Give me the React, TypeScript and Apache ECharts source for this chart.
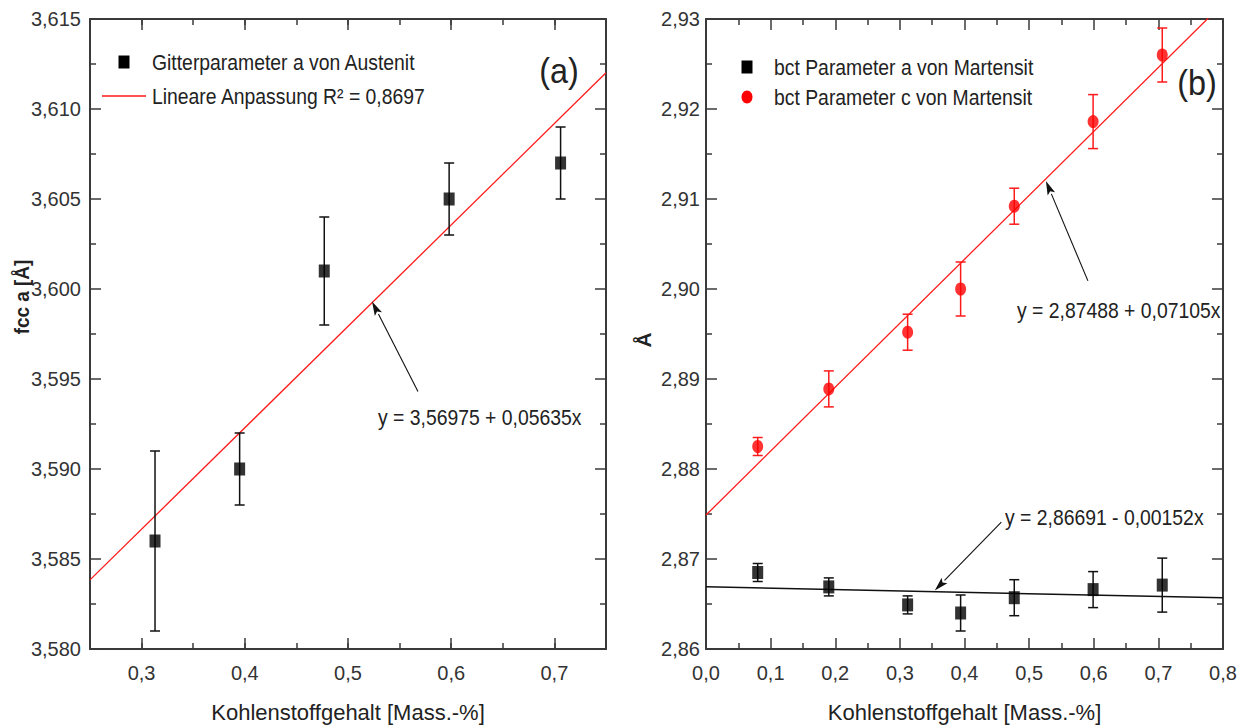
import React, { useEffect, useRef } from "react";
import * as echarts from "echarts";

// ---------- data ----------
// Panel (a): austenite lattice parameter
const austeniteC = [0.313, 0.395, 0.477, 0.598, 0.706];
const austeniteA = [3.586, 3.59, 3.601, 3.605, 3.607];
const austeniteErr = [0.005, 0.002, 0.003, 0.002, 0.002];
const austeniteFit = [
  [0.25, 3.58384],
  [0.75, 3.61201],
];

// Panel (b): martensite lattice parameters
const martensiteC = [0.08, 0.19, 0.312, 0.394, 0.477, 0.599, 0.706];
const martensiteA = [2.8685, 2.8669, 2.8649, 2.864, 2.8657, 2.8666, 2.8671];
const martensiteAErr = [0.001, 0.001, 0.001, 0.002, 0.002, 0.002, 0.003];
const martensiteCpar = [2.8825, 2.8889, 2.8952, 2.9, 2.9092, 2.9186, 2.926];
const martensiteCErr = [0.001, 0.002, 0.002, 0.003, 0.002, 0.003, 0.003];
const fitA = [
  [0.0, 2.86691],
  [0.8, 2.86569],
];
const fitC = [
  [0.0, 2.87488],
  [0.8, 2.93172],
];

// annotation arrows: [tailX, tailY, headX, headY]
const arrowLeft = [[0.5678, 3.5943, 0.5233, 3.5993]];
const arrowRightC = [[0.591, 2.9009, 0.526, 2.912]];
const arrowRightA = [[0.457, 2.8741, 0.354, 2.8665]];

const labelsText = {
  legendA1: "Gitterparameter a von Austenit",
  legendA2: "Lineare Anpassung R² = 0,8697",
  legendB1: "bct Parameter a von Martensit",
  legendB2: "bct Parameter c von Martensit",
  eqA: "y = 3,56975 + 0,05635x",
  eqBc: "y = 2,87488 + 0,07105x",
  eqBa: "y = 2,86691 - 0,00152x",
  xName: "Kohlenstoffgehalt [Mass.-%]",
  yNameA: "fcc a [Å]",
  yNameB: "Å",
};

const FONT = "'Liberation Sans Narrow', 'Arial Narrow', 'Liberation Sans', sans-serif";
const AXIS_COLOR = "#3a3a3a";
const TEXT_COLOR = "#222";
const NARROW = 0.88;

function errData(xs: number[], ys: number[], es: number[]) {
  return xs.map((x, i) => [x, ys[i] - es[i], ys[i] + es[i]]);
}

function errSeries(name: string, xi: number, yi: number, data: number[][], color: string) {
  return {
    name,
    type: "custom",
    xAxisIndex: xi,
    yAxisIndex: yi,
    z: 3,
    encode: { x: 0, y: [1, 2] },
    data,
    renderItem: (params: any, api: any) => {
      const x = api.value(0);
      const pl = api.coord([x, api.value(1)]);
      const ph = api.coord([x, api.value(2)]);
      const w = 5;
      const st = { stroke: color, lineWidth: 1.5 };
      return {
        type: "group",
        children: [
          { type: "line", shape: { x1: pl[0], y1: pl[1], x2: ph[0], y2: ph[1] }, style: st },
          { type: "line", shape: { x1: pl[0] - w, y1: pl[1], x2: pl[0] + w, y2: pl[1] }, style: st },
          { type: "line", shape: { x1: ph[0] - w, y1: ph[1], x2: ph[0] + w, y2: ph[1] }, style: st },
        ],
      };
    },
  };
}

function arrowSeries(xi: number, yi: number, data: number[][]) {
  return {
    type: "custom",
    xAxisIndex: xi,
    yAxisIndex: yi,
    z: 6,
    clip: false,
    encode: { x: [0, 2], y: [1, 3] },
    data,
    renderItem: (params: any, api: any) => {
      const t = api.coord([api.value(0), api.value(1)]);
      const h = api.coord([api.value(2), api.value(3)]);
      const dx = h[0] - t[0];
      const dy = h[1] - t[1];
      const len = Math.sqrt(dx * dx + dy * dy);
      const ux = dx / len;
      const uy = dy / len;
      const hl = 14;
      const hw = 4;
      const bx = h[0] - ux * hl;
      const by = h[1] - uy * hl;
      return {
        type: "group",
        children: [
          { type: "line", shape: { x1: t[0], y1: t[1], x2: bx, y2: by }, style: { stroke: "#111", lineWidth: 1.1 } },
          {
            type: "polygon",
            shape: {
              points: [
                [h[0], h[1]],
                [bx - uy * hw, by + ux * hw],
                [bx + ux * 3, by + uy * 3],
                [bx + uy * hw, by - ux * hw],
              ],
            },
            style: { fill: "#111" },
          },
        ],
      };
    },
  };
}

function fmt(d: number) {
  return (v: number) => v.toFixed(d).replace(".", ",");
}

function baseAxis(extra: any) {
  return {
    type: "value",
    splitLine: { show: false },
    axisLine: { show: true, onZero: false, lineStyle: { color: AXIS_COLOR, width: 2 } },
    axisTick: { show: true, inside: true, length: 11, lineStyle: { color: AXIS_COLOR, width: 1.5 } },
    axisLabel: { show: false },
    ...extra,
  };
}

const labelStyle = { color: "#333", fontFamily: FONT, fontSize: 20 };
const nameStyle = { color: TEXT_COLOR, fontFamily: FONT, fontSize: 22 };

function txt(text: string, x: number, y: number, size: number, extra: any = {}) {
  return {
    type: "text",
    x,
    y,
    scaleX: NARROW,
    style: { text, fill: TEXT_COLOR, font: `${size}px ${FONT}`, verticalAlign: "middle", ...extra },
  };
}

export default function App() {
  const ref = useRef<HTMLDivElement>(null);
  useEffect(() => {
    if (!ref.current) return;
    const chart = echarts.init(ref.current, undefined, { renderer: "svg" });
    const majorOnlyLabel = (v: number) =>
      Math.abs(v * 10 - Math.round(v * 10)) < 1e-6 ? v.toFixed(1).replace(".", ",") : "";
    const minorTicks = { show: true, splitNumber: 2, length: 6, lineStyle: { color: AXIS_COLOR, width: 1.5 } };

    const option: any = {
      animation: false,
      backgroundColor: "#fff",
      grid: [
        { left: 90, top: 19, width: 516, height: 640 },
        { left: 706, top: 19, width: 517, height: 640 },
      ],
      xAxis: [
        baseAxis({
          gridIndex: 0,
          position: "bottom",
          min: 0.25,
          max: 0.75,
          splitNumber: 5,
          axisLabel: { show: true, formatter: majorOnlyLabel, margin: 14, ...labelStyle },
          name: labelsText.xName,
          nameLocation: "middle",
          nameGap: 52,
          nameTextStyle: nameStyle,
        }),
        baseAxis({
          gridIndex: 0,
          position: "bottom",
          min: 0.25,
          max: 0.75,
          interval: 0.05,
          axisLine: { show: false, onZero: false },
          axisTick: { show: true, inside: true, length: 6, lineStyle: { color: AXIS_COLOR, width: 1.5 } },
        }),
        baseAxis({ gridIndex: 0, position: "top", min: 0.25, max: 0.75, splitNumber: 5 }),
        baseAxis({
          gridIndex: 0,
          position: "top",
          min: 0.25,
          max: 0.75,
          interval: 0.05,
          axisLine: { show: false, onZero: false },
          axisTick: { show: true, inside: true, length: 6, lineStyle: { color: AXIS_COLOR, width: 1.5 } },
        }),
        baseAxis({
          gridIndex: 1,
          position: "bottom",
          min: 0,
          max: 0.8,
          interval: 0.1,
          minorTick: minorTicks,
          axisLabel: { show: true, formatter: fmt(1), margin: 14, ...labelStyle },
          name: labelsText.xName,
          nameLocation: "middle",
          nameGap: 52,
          nameTextStyle: nameStyle,
        }),
        baseAxis({ gridIndex: 1, position: "top", min: 0, max: 0.8, interval: 0.1, minorTick: minorTicks }),
      ],
      yAxis: [
        baseAxis({
          gridIndex: 0,
          position: "left",
          min: 3.58,
          max: 3.615,
          interval: 0.005,
          minorTick: minorTicks,
          axisLabel: { show: true, formatter: fmt(3), margin: 9, ...labelStyle },
        }),
        baseAxis({ gridIndex: 0, position: "right", min: 3.58, max: 3.615, interval: 0.005, minorTick: minorTicks }),
        baseAxis({
          gridIndex: 1,
          position: "left",
          min: 2.86,
          max: 2.93,
          interval: 0.01,
          minorTick: minorTicks,
          axisLabel: { show: true, formatter: fmt(2), margin: 6, ...labelStyle },
        }),
        baseAxis({ gridIndex: 1, position: "right", min: 2.86, max: 2.93, interval: 0.01, minorTick: minorTicks }),
      ],
      series: [
        {
          name: labelsText.legendA2,
          type: "line",
          xAxisIndex: 0,
          yAxisIndex: 0,
          data: austeniteFit,
          symbol: "none",
          z: 2,
          lineStyle: { color: "#ff1a1a", width: 1.3 },
        },
        errSeries("errA", 0, 0, errData(austeniteC, austeniteA, austeniteErr), "#111"),
        {
          name: labelsText.legendA1,
          type: "scatter",
          xAxisIndex: 0,
          yAxisIndex: 0,
          symbol: "rect",
          symbolSize: [11, 13],
          z: 4,
          itemStyle: { color: "#000" },
          data: austeniteC.map((x, i) => [x, austeniteA[i]]),
        },
        arrowSeries(0, 0, arrowLeft),
        {
          type: "line",
          xAxisIndex: 4,
          yAxisIndex: 2,
          data: fitC,
          symbol: "none",
          z: 2,
          clip: true,
          lineStyle: { color: "#ff1a1a", width: 1.3 },
        },
        {
          type: "line",
          xAxisIndex: 4,
          yAxisIndex: 2,
          data: fitA,
          symbol: "none",
          z: 2,
          lineStyle: { color: "#111", width: 1.5 },
        },
        errSeries("errBa", 4, 2, errData(martensiteC, martensiteA, martensiteAErr), "#111"),
        errSeries("errBc", 4, 2, errData(martensiteC, martensiteCpar, martensiteCErr), "#ff1a1a"),
        {
          name: labelsText.legendB1,
          type: "scatter",
          xAxisIndex: 4,
          yAxisIndex: 2,
          symbol: "rect",
          symbolSize: [11, 13],
          z: 4,
          itemStyle: { color: "#000" },
          data: martensiteC.map((x, i) => [x, martensiteA[i]]),
        },
        {
          name: labelsText.legendB2,
          type: "scatter",
          xAxisIndex: 4,
          yAxisIndex: 2,
          symbol: "circle",
          symbolSize: [11, 13],
          z: 4,
          itemStyle: { color: "#ff0000" },
          data: martensiteC.map((x, i) => [x, martensiteCpar[i]]),
        },
        arrowSeries(4, 2, arrowRightC),
        arrowSeries(4, 2, arrowRightA),
      ],
      graphic: [
        // legend (a)
        { type: "rect", shape: { x: 118.5, y: 55.5, width: 11, height: 13 }, style: { fill: "#000" } },
        txt(labelsText.legendA1, 152, 62, 22),
        { type: "line", shape: { x1: 102, y1: 96, x2: 146, y2: 96 }, style: { stroke: "#ff1a1a", lineWidth: 1.5 } },
        txt(labelsText.legendA2, 152, 96, 22),
        {
          type: "text",
          x: 559,
          y: 70,
          style: { text: "(a)", fill: TEXT_COLOR, font: `36px ${FONT}`, align: "center", verticalAlign: "middle" },
          scaleX: 0.9,
        },
        // legend (b)
        { type: "rect", shape: { x: 741.5, y: 60.5, width: 11, height: 13 }, style: { fill: "#000" } },
        txt(labelsText.legendB1, 774, 67, 22),
        { type: "ellipse", shape: { cx: 747, cy: 97, rx: 5.5, ry: 6.5 }, style: { fill: "#ff0000" } },
        txt(labelsText.legendB2, 774, 97, 22),
        {
          type: "text",
          x: 1197,
          y: 82,
          style: { text: "(b)", fill: TEXT_COLOR, font: `36px ${FONT}`, align: "center", verticalAlign: "middle" },
          scaleX: 0.9,
        },
        // equations
        txt(labelsText.eqA, 378, 417, 22),
        txt(labelsText.eqBc, 1017, 310, 22),
        txt(labelsText.eqBa, 1005, 517, 22),
        // y axis names
        {
          type: "text",
          x: 22,
          y: 297,
          rotation: Math.PI / 2,
          scaleX: 0.9,
          style: {
            text: labelsText.yNameA,
            fill: TEXT_COLOR,
            font: `bold 21px ${FONT}`,
            align: "center",
            verticalAlign: "middle",
          },
        },
        {
          type: "text",
          x: 643,
          y: 340,
          rotation: Math.PI / 2,
          style: {
            text: labelsText.yNameB,
            fill: TEXT_COLOR,
            font: `bold 21px ${FONT}`,
            align: "center",
            verticalAlign: "middle",
          },
        },
      ],
    };
    chart.setOption(option);
    return () => chart.dispose();
  }, []);
  return (
    <div
      ref={ref}
      style={{ position: "absolute", left: 0, top: 0, width: 1251, height: 728, background: "#fff" }}
    />
  );
}
